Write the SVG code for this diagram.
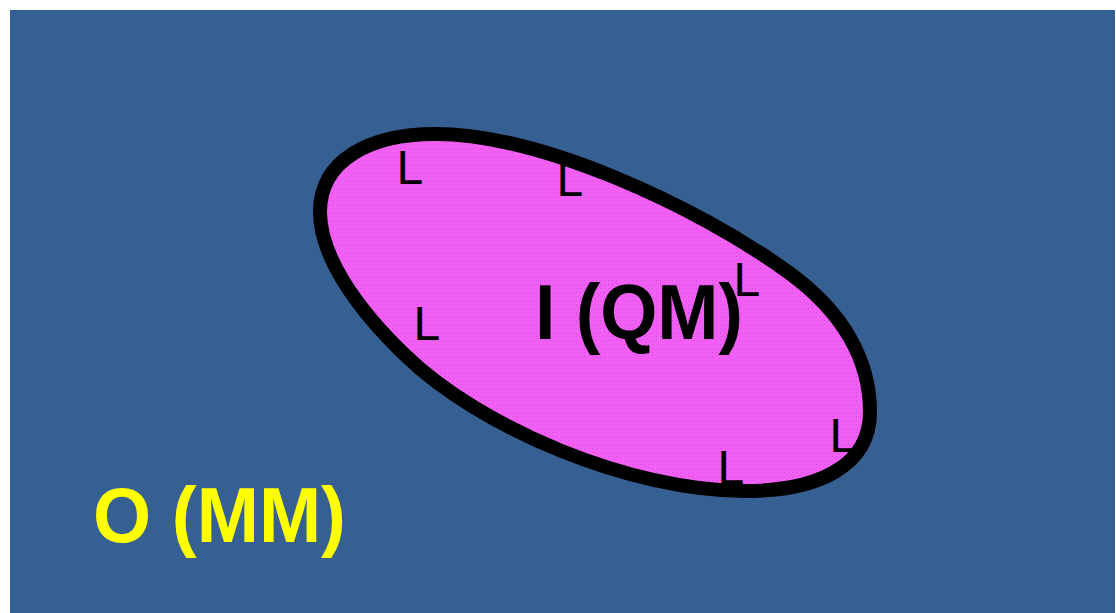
<svg xmlns="http://www.w3.org/2000/svg" width="1116" height="613" viewBox="0 0 1116 613">
  <defs>
    <pattern id="dots" width="4" height="4" patternUnits="userSpaceOnUse">
      <rect width="4" height="4" fill="#f65ef6"/>
      <rect x="0" y="0" width="1" height="1" fill="#b05ad6"/>
      <rect x="2" y="2" width="1" height="1" fill="#d65ae8"/>
    </pattern>
    <style>
      .l { font-family: "Liberation Sans", Arial, sans-serif; font-size: 48px; fill: #000; }
      .big { font-family: "Liberation Sans", Arial, sans-serif; font-weight: bold; font-size: 77px; }
    </style>
  </defs>
  <rect width="1116" height="613" fill="#ffffff"/>
  <rect x="10" y="10" width="1105" height="603" fill="#366092"/>
  <g id="region-I">
    <path d="M 320,212 C 320,160 370,134 435,134 C 540,134 695,205 788,272 C 845,313 870,362 870,412 C 870,465 820,491 745,491 C 630,491 480,428 405,355 C 355,307 320,255 320,212 Z" fill="url(#dots)" stroke="#000" stroke-width="14"/>
    <text class="l" x="396.5" y="184">L</text>
    <text class="l" x="556.5" y="196">L</text>
    <text class="l" x="733.5" y="296">L</text>
    <text class="l" x="413.5" y="340">L</text>
    <text class="l" x="717.5" y="484">L</text>
    <text class="l" x="829.5" y="452">L</text>
    <text class="big" x="535" y="339" fill="#000" textLength="208" lengthAdjust="spacingAndGlyphs">I (QM)</text>
  </g>
  <g id="region-O">
    <text class="big" x="93" y="542" fill="#ffff00" textLength="253" lengthAdjust="spacingAndGlyphs">O (MM)</text>
  </g>
</svg>
